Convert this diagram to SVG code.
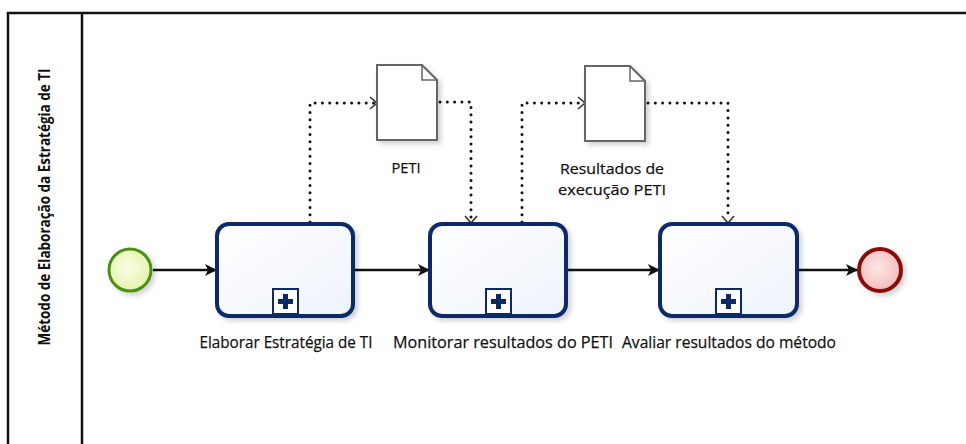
<svg xmlns="http://www.w3.org/2000/svg" width="966" height="444" viewBox="0 0 966 444">
<style>
.lane{stroke:#111;stroke-width:2.5;fill:none}
.task{fill:url(#tg);stroke:#0c2a66;stroke-width:4;filter:url(#sh)}
.mk{fill:#fff;stroke:#0c2a66;stroke-width:2}
.plus{fill:#0c2a66}
.flow{stroke:#111;stroke-width:2.5;fill:none;marker-end:url(#arr)}
.assoc{stroke:#111;stroke-width:3;fill:none;stroke-dasharray:0 7.3;stroke-linecap:round}
.chev{stroke:#333;stroke-width:1.6;fill:none}
.doc{fill:#fff;stroke:#666;stroke-width:2;filter:url(#sh)}
.lbl{font-family:"Open Sans","Liberation Sans",sans-serif;font-size:17px;fill:#111;text-anchor:middle;stroke:#111;stroke-width:0.25}
.dl{font-size:15px}
.title{font-family:"Open Sans","Liberation Sans",sans-serif;font-size:16px;font-weight:bold;fill:#111;text-anchor:middle}
</style>
<defs>
<linearGradient id="tg" x1="0" y1="0" x2="1" y2="1"><stop offset="0" stop-color="#ffffff"/><stop offset="1" stop-color="#eef3fb"/></linearGradient>
<radialGradient id="sg" cx="0.45" cy="0.45" r="0.6"><stop offset="0" stop-color="#fbfde6"/><stop offset="1" stop-color="#e4f2a8"/></radialGradient>
<radialGradient id="eg" cx="0.45" cy="0.45" r="0.6"><stop offset="0" stop-color="#fde8e8"/><stop offset="1" stop-color="#f3b8b8"/></radialGradient>
<filter id="sh" x="-20%" y="-20%" width="150%" height="150%"><feDropShadow dx="3" dy="3" stdDeviation="2.5" flood-color="#000" flood-opacity="0.18"/></filter>
<marker id="arr" viewBox="0 0 12 12" refX="11" refY="6" markerWidth="12" markerHeight="12" markerUnits="userSpaceOnUse" orient="auto"><path d="M0,0 L12,6 L0,12 L3,6 Z" fill="#111"/></marker>
</defs>
<g id="lane">
<path class="lane" d="M8,444 V13 H966 M82,13 V444"/>
<text class="title" transform="translate(50,207) rotate(-90)" textLength="277" lengthAdjust="spacingAndGlyphs">Método de Elaboração da Estratégia de TI</text>
</g>
<g id="connectors">
<path class="flow" d="M153,270 H216"/>
<path class="flow" d="M355,270 H429"/>
<path class="flow" d="M568,270 H659"/>
<path class="flow" d="M799,270 H857"/>
<path class="assoc" d="M310,222 V103 H374"/>
<path class="chev" d="M370,97 L377,103 L370,109"/>
<path class="assoc" d="M440,102 H471 V220"/>
<path class="chev" d="M465,216 L471,223 L477,216"/>
<path class="assoc" d="M522,222 V103 H582"/>
<path class="chev" d="M578,97 L585,103 L578,109"/>
<path class="assoc" d="M648,103 H728 V220"/>
<path class="chev" d="M722,216 L728,223 L734,216"/>
</g>
<g id="start"><circle cx="130" cy="270" r="21" fill="url(#sg)" stroke="#4b8f12" stroke-width="3" filter="url(#sh)"/></g>
<g id="task1">
<rect class="task" x="217" y="224" width="136" height="92" rx="12"/>
<rect class="mk" x="273" y="289" width="25" height="25"/>
<path class="plus" d="M283,294 h5 v5 h5 v5 h-5 v5 h-5 v-5 h-5 v-5 h5 Z"/>
<text class="lbl" x="286" y="348" textLength="173" lengthAdjust="spacingAndGlyphs">Elaborar Estratégia de TI</text>
</g>
<g id="task2">
<rect class="task" x="430" y="224" width="136" height="92" rx="12"/>
<rect class="mk" x="486" y="289" width="25" height="25"/>
<path class="plus" d="M496,294 h5 v5 h5 v5 h-5 v5 h-5 v-5 h-5 v-5 h5 Z"/>
<text class="lbl" x="503" y="348" textLength="220" lengthAdjust="spacingAndGlyphs">Monitorar resultados do PETI</text>
</g>
<g id="task3">
<rect class="task" x="660" y="224" width="137" height="92" rx="12"/>
<rect class="mk" x="716" y="289" width="25" height="25"/>
<path class="plus" d="M726,294 h5 v5 h5 v5 h-5 v5 h-5 v-5 h-5 v-5 h5 Z"/>
<text class="lbl" x="729" y="348" textLength="214" lengthAdjust="spacingAndGlyphs">Avaliar resultados do método</text>
</g>
<g id="end"><circle cx="880" cy="270" r="21" fill="url(#eg)" stroke="#8a0c0c" stroke-width="4" filter="url(#sh)"/></g>
<g id="doc1">
<path class="doc" d="M377,65 H422 L437,80 V140 H377 Z"/>
<path d="M422,65 V80 H437" fill="none" stroke="#666" stroke-width="1.5"/>
<text class="lbl dl" x="406" y="173" textLength="29" lengthAdjust="spacingAndGlyphs">PETI</text>
</g>
<g id="doc2">
<path class="doc" d="M585,66 H630 L645,81 V141 H585 Z"/>
<path d="M630,66 V81 H645" fill="none" stroke="#666" stroke-width="1.5"/>
<text class="lbl dl" x="612" y="174" textLength="104" lengthAdjust="spacingAndGlyphs">Resultados  de</text>
<text class="lbl dl" x="612" y="195" textLength="108" lengthAdjust="spacingAndGlyphs">execução PETI</text>
</g>
</svg>
